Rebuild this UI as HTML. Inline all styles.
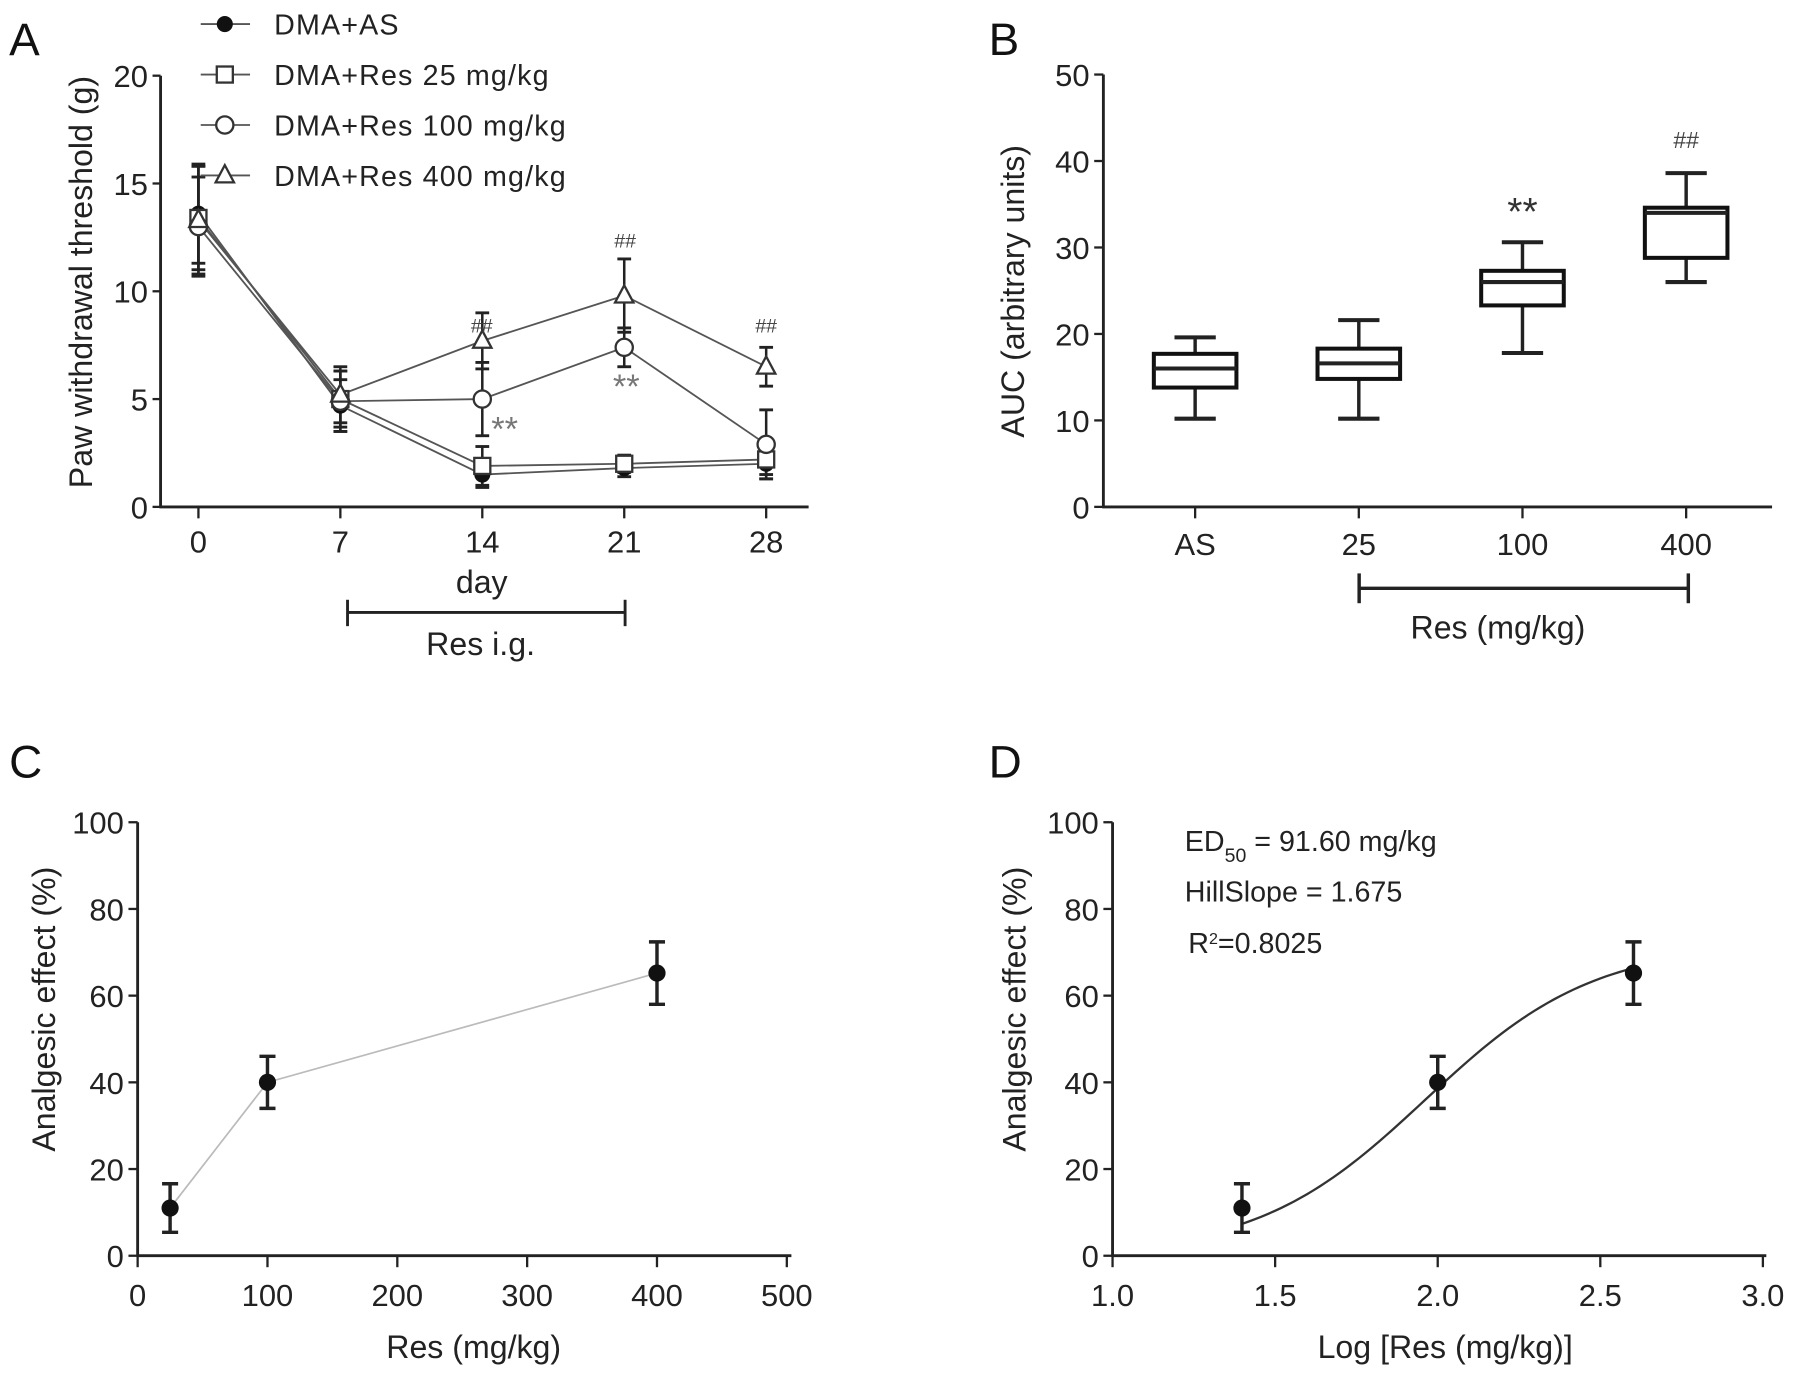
<!DOCTYPE html>
<html><head><meta charset="utf-8"><style>
html,body{margin:0;padding:0;background:#fff;}
svg{display:block;font-family:"Liberation Sans",Arial,sans-serif;}
</style></head><body>
<svg id="fig" width="1795" height="1375" viewBox="0 0 1565 1199" preserveAspectRatio="none" xmlns="http://www.w3.org/2000/svg"></svg>
<script>
// ---- Panel A data ----
const daysA = [0, 7, 14, 21, 28];
const seriesNames = ["DMA+AS", "DMA+Res 25 mg/kg", "DMA+Res 100 mg/kg", "DMA+Res 400 mg/kg"];
const valAS = [13.6, 4.7, 1.5, 1.8, 2.0];
const val25 = [13.4, 5.0, 1.9, 2.0, 2.2];
const val100 = [13.0, 4.9, 5.0, 7.4, 2.9];
const val400 = [13.3, 5.2, 7.7, 9.8, 6.5];
const errAS = [2.3, 1.2, 0.6, 0.4, 0.7];
const err25 = [2.4, 1.3, 0.9, 0.4, 0.7];
const err100 = [2.3, 1.4, 1.7, 0.9, 1.6];
const err400 = [2.5, 1.3, 1.3, 1.7, 0.9];
const yTicksA = [0, 5, 10, 15, 20];
// ---- Panel B data ----
const catsB = ["AS", "25", "100", "400"];
const boxMin = [10.2, 10.2, 17.8, 26.0];
const boxQ1 = [13.8, 14.8, 23.3, 28.8];
const boxMed = [16.0, 16.6, 26.0, 34.0];
const boxQ3 = [17.7, 18.3, 27.3, 34.6];
const boxMax = [19.6, 21.6, 30.6, 38.6];
const yTicksB = [0, 10, 20, 30, 40, 50];
// ---- Panel C/D data ----
const doses = [25, 100, 400];
const effect = [11, 40, 65.2];
const effErr = [5.6, 6.0, 7.2];
const xTicksC = [0, 100, 200, 300, 400, 500];
const yTicksCD = [0, 20, 40, 60, 80, 100];
const xTicksD = [1.0, 1.5, 2.0, 2.5, 3.0];
const hillParams = [1.962, 1.675, 72]; // logED50, slope, top

const svg = document.getElementById('fig');
const NS = 'http://www.w3.org/2000/svg';
function mk(tag, attrs, name, parent) {
  const e = document.createElementNS(NS, tag);
  for (const k in attrs) e.setAttribute(k, attrs[k]);
  
  
  (parent || svg).appendChild(e);
  return e;
}
function txt(x, y, s, size, name, extra) {
  const e = mk('text', Object.assign({x: x, y: y, 'font-size': size, fill: '#222'}, extra || {}), name);
  e.textContent = s;
  return e;
}
function line(x1, y1, x2, y2, w, name, col) {
  return mk('line', {x1: x1, y1: y1, x2: x2, y2: y2, stroke: col || '#222', 'stroke-width': w}, name);
}
const TK = 27, TT = 28;

// ================= Panel A =================
txt(8, 48, 'A', 40, 'panel-label-a', {fill: '#111'});
const ax = d => 173 + (d / 7) * 123.75;
const ay = v => 442 - v * 18.8;
line(140, 66, 140, 443, 2.5, 'y-axis-a');
line(139, 442, 705, 442, 2.5, 'x-axis-a');
yTicksA.forEach(t => { line(133, ay(t), 140, ay(t), 2, 'y-tick-a'); txt(129, ay(t) + 10, t, TK, 'y-tick-label-a', {'text-anchor': 'end'}); });
daysA.forEach(d => { line(ax(d), 442, ax(d), 452, 2, 'x-tick-a'); txt(ax(d), 482, d, TK, 'x-tick-label-a', {'text-anchor': 'middle'}); });
txt(420, 517, 'day', TT, 'x-axis-title-a', {'text-anchor': 'middle'});
txt(80, 246, 'Paw withdrawal threshold (g)', TT, 'y-axis-title-a', {'text-anchor': 'middle', transform: 'rotate(-90 80 246)'});
line(303, 534, 545, 534, 2.5, 'res-ig-bracket');
line(303, 523, 303, 546, 2.5, 'res-ig-bracket-left');
line(545, 523, 545, 546, 2.5, 'res-ig-bracket-right');
txt(419, 571, 'Res i.g.', TT, 'res-ig-label', {'text-anchor': 'middle'});

function marker(type, x, y, name) {
  if (type === 0) mk('circle', {cx: x, cy: y, r: 7, fill: '#111'}, name);
  else if (type === 1) mk('rect', {x: x - 7, y: y - 7, width: 14, height: 14, fill: '#fff', stroke: '#333', 'stroke-width': 2}, name);
  else if (type === 2) mk('circle', {cx: x, cy: y, r: 7.5, fill: '#fff', stroke: '#333', 'stroke-width': 2}, name);
  else mk('polygon', {points: `${x},${y - 9} ${x - 8},${y + 6} ${x + 8},${y + 6}`, fill: '#fff', stroke: '#333', 'stroke-width': 2}, name);
}
const allVals = [valAS, val25, val100, val400];
const allErr = [errAS, err25, err100, err400];
const sNames = ['dma-as', 'res-25', 'res-100', 'res-400'];
allVals.forEach((vals, s) => {
  const pts = vals.map((v, i) => ax(daysA[i]) + ',' + ay(v)).join(' ');
  mk('polyline', {points: pts, fill: 'none', stroke: '#555', 'stroke-width': 1.6}, 'line-' + sNames[s]);
});
allVals.forEach((vals, s) => {
  vals.forEach((v, i) => {
    const x = ax(daysA[i]), e = allErr[s][i];
    line(x, ay(v - e), x, ay(v + e), 2.2, 'errorbar-' + sNames[s]);
    line(x - 6, ay(v + e), x + 6, ay(v + e), 2.5, 'errorcap-' + sNames[s]);
    line(x - 6, ay(v - e), x + 6, ay(v - e), 2.5, 'errorcap-' + sNames[s]);
  });
});
allVals.forEach((vals, s) => vals.forEach((v, i) => marker(s, ax(daysA[i]), ay(v), 'point-' + sNames[s])));
txt(420, 290, '##', 17, 'sig-hash-d14', {'text-anchor': 'middle', fill: '#444'});
txt(545, 216, '##', 17, 'sig-hash-d21', {'text-anchor': 'middle', fill: '#444'});
txt(668, 290, '##', 17, 'sig-hash-d28', {'text-anchor': 'middle', fill: '#444'});
txt(440, 384, '**', 30, 'sig-star-d14', {'text-anchor': 'middle', fill: '#777'});
txt(546, 347, '**', 30, 'sig-star-d21', {'text-anchor': 'middle', fill: '#777'});
seriesNames.forEach((n, i) => {
  const y = 21 + i * 44;
  line(175, y, 218, y, 1.6, 'legend-line', '#555');
  marker(i, 196, y, 'legend-marker');
  txt(239, y + 9, n, 25, 'legend-entry', {'letter-spacing': '1'});
});

// ================= Panel B =================
txt(862, 48, 'B', 40, 'panel-label-b', {fill: '#111'});
const by = v => 442 - v * 7.54;
const bx = i => 1042 + i * 142.7;
line(962, 65, 962, 443, 2.5, 'y-axis-b');
line(961, 442, 1545, 442, 2.5, 'x-axis-b');
yTicksB.forEach(t => { line(954, by(t), 962, by(t), 2, 'y-tick-b'); txt(950, by(t) + 10, t, TK, 'y-tick-label-b', {'text-anchor': 'end'}); });
catsB.forEach((c, i) => { line(bx(i), 442, bx(i), 452, 2, 'x-tick-b'); txt(bx(i), 484, c, TK, 'x-tick-label-b', {'text-anchor': 'middle'}); });
txt(893, 254, 'AUC (arbitrary units)', TT, 'y-axis-title-b', {'text-anchor': 'middle', transform: 'rotate(-90 893 254)'});
catsB.forEach((c, i) => {
  const x = bx(i), hw = 36;
  line(x, by(boxMin[i]), x, by(boxQ1[i]), 3, 'whisker-low-' + c);
  line(x, by(boxQ3[i]), x, by(boxMax[i]), 3, 'whisker-high-' + c);
  line(x - 18, by(boxMin[i]), x + 18, by(boxMin[i]), 3.5, 'whisker-cap-' + c);
  line(x - 18, by(boxMax[i]), x + 18, by(boxMax[i]), 3.5, 'whisker-cap-' + c);
  mk('rect', {x: x - hw, y: by(boxQ3[i]), width: hw * 2, height: by(boxQ1[i]) - by(boxQ3[i]), fill: '#fff', stroke: '#111', 'stroke-width': 3.5}, 'box-' + c);
  line(x - hw, by(boxMed[i]), x + hw, by(boxMed[i]), 3.5, 'median-' + c);
});
txt(bx(2), 196, '**', 34, 'sig-star-100', {'text-anchor': 'middle', fill: '#333'});
txt(bx(3), 129, '##', 20, 'sig-hash-400', {'text-anchor': 'middle', fill: '#444'});
line(1185, 513, 1472, 513, 3, 'res-bracket');
line(1185, 500, 1185, 526, 3, 'res-bracket-left');
line(1472, 500, 1472, 526, 3, 'res-bracket-right');
txt(1306, 557, 'Res (mg/kg)', TT, 'res-bracket-label', {'text-anchor': 'middle'});

// ================= Panel C =================
txt(8, 678, 'C', 40, 'panel-label-c', {fill: '#111'});
const cy = v => 1095 - v * 3.78;
const cx = d => 120 + d * 1.132;
line(120, 717, 120, 1096, 2.5, 'y-axis-c');
line(119, 1095, 690, 1095, 2.5, 'x-axis-c');
yTicksCD.forEach(t => { line(112, cy(t), 120, cy(t), 2, 'y-tick-c'); txt(108, cy(t) + 10, t, TK, 'y-tick-label-c', {'text-anchor': 'end'}); });
xTicksC.forEach(t => { line(cx(t), 1095, cx(t), 1105, 2, 'x-tick-c'); txt(cx(t), 1139, t, TK, 'x-tick-label-c', {'text-anchor': 'middle'}); });
txt(413, 1184, 'Res (mg/kg)', TT, 'x-axis-title-c', {'text-anchor': 'middle'});
txt(48, 880, 'Analgesic effect (%)', TT, 'y-axis-title-c', {'text-anchor': 'middle', transform: 'rotate(-90 48 880)'});
mk('polyline', {points: doses.map((d, i) => cx(d) + ',' + cy(effect[i])).join(' '), fill: 'none', stroke: '#bbb', 'stroke-width': 1.5}, 'line-c');
doses.forEach((d, i) => {
  const x = cx(d);
  line(x, cy(effect[i] - effErr[i]), x, cy(effect[i] + effErr[i]), 3, 'errorbar-c');
  line(x - 7, cy(effect[i] + effErr[i]), x + 7, cy(effect[i] + effErr[i]), 3, 'errorcap-c');
  line(x - 7, cy(effect[i] - effErr[i]), x + 7, cy(effect[i] - effErr[i]), 3, 'errorcap-c');
  mk('circle', {cx: x, cy: cy(effect[i]), r: 7.5, fill: '#111'}, 'point-c');
});

// ================= Panel D =================
txt(862, 678, 'D', 40, 'panel-label-d', {fill: '#111'});
const dx = l => 970 + (l - 1) * 283.5;
line(970, 717, 970, 1096, 2.5, 'y-axis-d');
line(969, 1095, 1540, 1095, 2.5, 'x-axis-d');
yTicksCD.forEach(t => { line(962, cy(t), 970, cy(t), 2, 'y-tick-d'); txt(958, cy(t) + 10, t, TK, 'y-tick-label-d', {'text-anchor': 'end'}); });
xTicksD.forEach(t => { line(dx(t), 1095, dx(t), 1105, 2, 'x-tick-d'); txt(dx(t), 1139, t.toFixed(1), TK, 'x-tick-label-d', {'text-anchor': 'middle'}); });
txt(1260, 1184, 'Log [Res (mg/kg)]', TT, 'x-axis-title-d', {'text-anchor': 'middle'});
txt(894, 880, 'Analgesic effect (%)', TT, 'y-axis-title-d', {'text-anchor': 'middle', transform: 'rotate(-90 894 880)'});
const logs = doses.map(d => Math.log10(d));
let cp = [];
for (let l = logs[0]; l <= logs[2] + 1e-9; l += 0.02) {
  const v = hillParams[2] / (1 + Math.pow(10, (hillParams[0] - l) * hillParams[1]));
  cp.push(dx(l) + ',' + cy(v));
}
mk('polyline', {points: cp.join(' '), fill: 'none', stroke: '#333', 'stroke-width': 2}, 'fit-curve-d');
logs.forEach((l, i) => {
  const x = dx(l);
  line(x, cy(effect[i] - effErr[i]), x, cy(effect[i] + effErr[i]), 3, 'errorbar-d');
  line(x - 7, cy(effect[i] + effErr[i]), x + 7, cy(effect[i] + effErr[i]), 3, 'errorcap-d');
  line(x - 7, cy(effect[i] - effErr[i]), x + 7, cy(effect[i] - effErr[i]), 3, 'errorcap-d');
  mk('circle', {cx: x, cy: cy(effect[i]), r: 7.5, fill: '#111'}, 'point-d');
});
const ed = txt(1033, 742, '', 25, 'ed50-annotation');
ed.innerHTML = 'ED<tspan baseline-shift="sub" font-size="17">50</tspan> = 91.60 mg/kg';
txt(1033, 786, 'HillSlope = 1.675', 25, 'hillslope-annotation');
const r2 = txt(1036, 831, '', 25, 'r-squared-annotation');
r2.innerHTML = 'R<tspan baseline-shift="super" font-size="14">2</tspan>=0.8025';
</script>
</body></html>
